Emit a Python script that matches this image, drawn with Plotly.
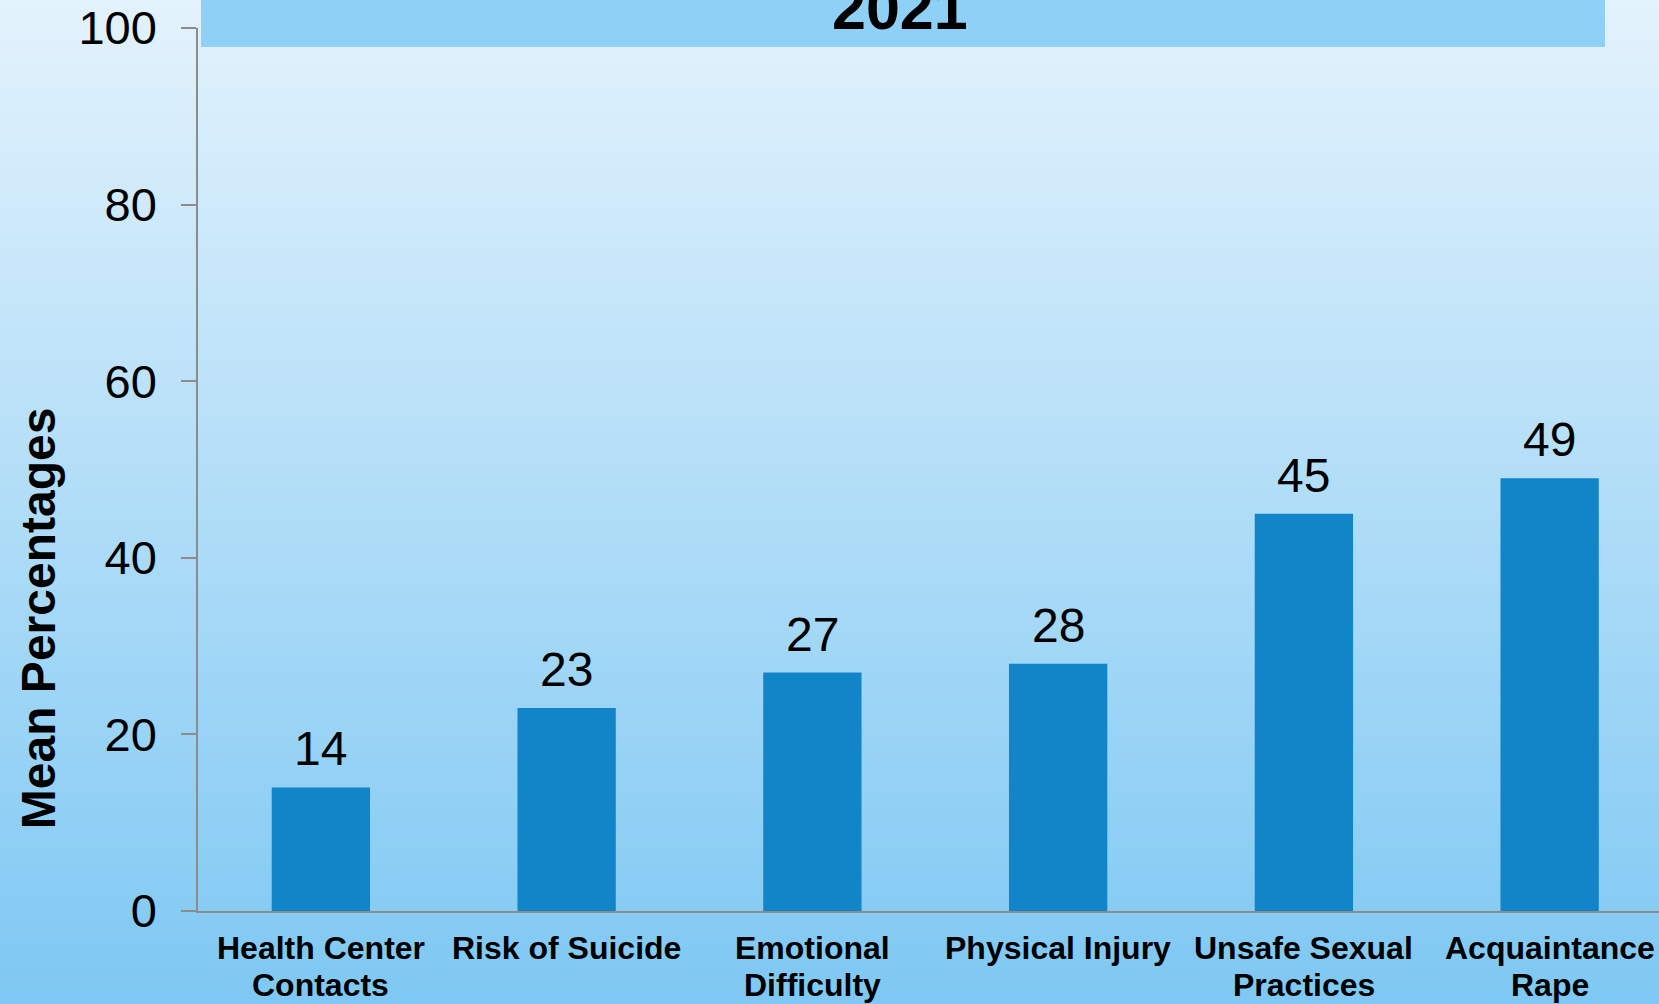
import plotly.graph_objects as go

categories = ["Health Center<br>Contacts", "Risk of Suicide", "Emotional<br>Difficulty",
              "Physical Injury", "Unsafe Sexual<br>Practices", "Acquaintance<br>Rape"]
values = [14, 23, 27, 28, 45, 49]
y_ticks = [0, 20, 40, 60, 80, 100]
title_text = "2021"
y_title = "Mean Percentages"

W, H = 1659, 1004
L, R, T, B = 198, 0, 27.5, 93
pw, ph = W - L - R, H - T - B

FONT = "Liberation Sans, Arial, sans-serif"

fig = go.Figure()
fig.add_trace(go.Bar(
    x=list(range(len(values))), y=values, width=0.4,
    marker=dict(color="#1185c8", line=dict(width=0)),
    hoverinfo="skip",
))

shapes = []
# vertical gradient background
top_c = (0xe3, 0xf2, 0xfc)
bot_c = (0x7e, 0xc8, 0xf3)
N = 160
y_lo = -B / ph
y_hi = (H - B) / ph
x_lo = -L / pw
for i in range(N):
    f = i / (N - 1)
    c = tuple(round(bot_c[k] + (top_c[k] - bot_c[k]) * f) for k in range(3))
    y0 = y_lo + (y_hi - y_lo) * i / N
    y1 = y_lo + (y_hi - y_lo) * (i + 1) / N + 0.002
    shapes.append(dict(type="rect", xref="paper", yref="paper", x0=x_lo - 0.01, x1=1.01,
                       y0=y0, y1=y1, fillcolor="rgb(%d,%d,%d)" % c,
                       line=dict(width=0), layer="below"))
# title band
shapes.append(dict(type="rect", xref="paper", yref="paper",
                   x0=(201 - L) / pw, x1=(1605 - L) / pw,
                   y0=(H - B - 46.5) / ph, y1=y_hi + 0.01,
                   fillcolor="#8fd1f6", line=dict(width=0), layer="below"))

annotations = []
for i, v in enumerate(values):
    annotations.append(dict(x=i, y=v, xref="x", yref="y", text=str(v), showarrow=False,
                            yanchor="bottom", yshift=10,
                            font=dict(family=FONT, size=48, color="black")))
# category labels (two lines, tight spacing)
for i, cat in enumerate(categories):
    for j, line in enumerate(cat.split("<br>")):
        annotations.append(dict(x=i, y=0, xref="x", yref="paper", text="<b>" + line + "</b>",
                                showarrow=False, yanchor="middle", yshift=-37 - 37 * j,
                                font=dict(family=FONT, size=32, color="black")))
annotations.append(dict(x=(900 - L) / pw, y=(H - B - 30) / ph, xref="paper", yref="paper",
                        text="<b>" + title_text + "</b>", showarrow=False, yanchor="bottom",
                        yshift=-14, font=dict(family=FONT, size=61, color="black")))
annotations.append(dict(x=(38 - L) / pw, y=(H - B - 618) / ph, xref="paper", yref="paper",
                        text="<b>" + y_title + "</b>", textangle=-90, showarrow=False,
                        xanchor="center", yanchor="middle",
                        font=dict(family=FONT, size=48, color="black")))

fig.update_layout(
    width=W, height=H,
    margin=dict(l=L, r=R, t=T, b=B, pad=0),
    paper_bgcolor="#7ec8f3", plot_bgcolor="rgba(0,0,0,0)",
    showlegend=False, shapes=shapes, annotations=annotations,
    bargap=0.6,
    xaxis=dict(range=[-0.5, 5.445], tickvals=list(range(len(values))),
               showticklabels=False,
               showline=True, linecolor="#8c8c8c", linewidth=1.5, ticks="",
               showgrid=False, zeroline=False),
    yaxis=dict(range=[0, 100], tickvals=y_ticks, showline=True, linecolor="#8c8c8c",
               linewidth=1.5, ticks="outside", ticklen=15, tickcolor="#8c8c8c", tickwidth=1.5,
               showgrid=False, zeroline=False, ticklabelstandoff=15,
               tickfont=dict(family=FONT, size=47, color="black")),
)

fig.write_html("out.html", config={"displayModeBar": False},
               post_script="document.body.style.margin='0';document.body.style.overflow='hidden';")
